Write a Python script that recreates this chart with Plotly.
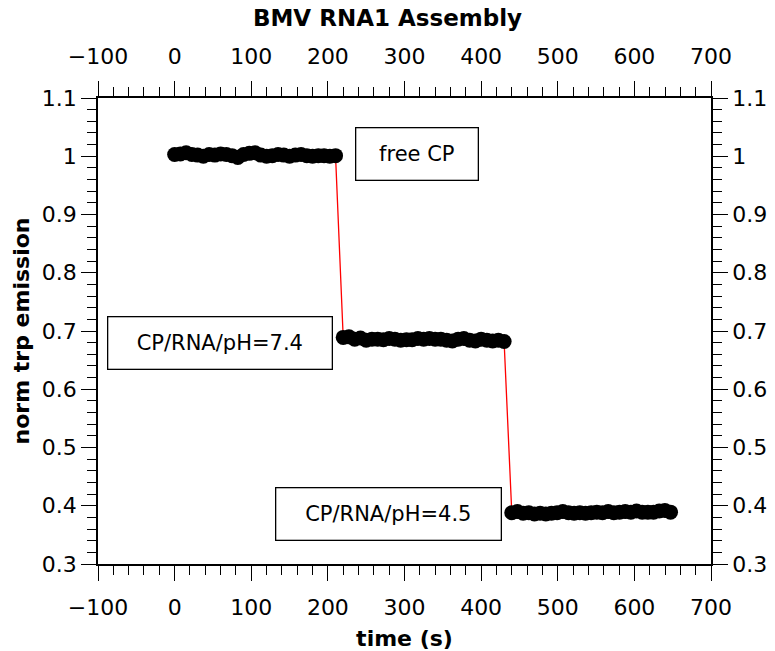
import plotly.graph_objects as go

time_s = [round(i * 7.5, 1) for i in range(29)] + \
         [round(220 + i * 7.5, 1) for i in range(29)] + \
         [round(440 + i * 7.4, 1) for i in range(29)]

seg1 = [1.003, 1.004, 1.006, 1.003, 1.002, 1.000, 1.003, 1.002, 1.004, 1.003,
        1.001, 0.998, 1.003, 1.005, 1.006, 1.002, 1.000, 1.001, 1.003, 1.002,
        1.000, 1.002, 1.003, 1.001, 1.000, 1.001, 1.001, 1.000, 1.001]
seg2 = [0.689, 0.690, 0.686, 0.688, 0.684, 0.686, 0.686, 0.685, 0.687, 0.686,
        0.684, 0.685, 0.685, 0.687, 0.686, 0.687, 0.686, 0.686, 0.684, 0.683,
        0.686, 0.687, 0.684, 0.683, 0.686, 0.684, 0.683, 0.684, 0.682]
seg3 = [0.388, 0.390, 0.387, 0.388, 0.386, 0.387, 0.386, 0.387, 0.388, 0.390,
        0.388, 0.387, 0.388, 0.387, 0.388, 0.389, 0.388, 0.390, 0.388, 0.389,
        0.390, 0.389, 0.391, 0.389, 0.389, 0.389, 0.391, 0.392, 0.389]
emission = seg1 + seg2 + seg3

labels = ["free CP", "CP/RNA/pH=7.4", "CP/RNA/pH=4.5"]
label_x = [316.5, 59.5, 278.5]
label_y = [1.004, 0.68, 0.385]
label_w = [121, 223, 224]

xrange_ = [-100, 700]
yrange_ = [0.3, 1.1]

font_main = "DejaVu Sans"

fig = go.Figure()
fig.add_trace(go.Scatter(
    x=time_s, y=emission, mode="lines+markers",
    line=dict(color="red", width=1.3),
    marker=dict(color="black", size=15),
    showlegend=False,
))

common = dict(
    showline=True, linecolor="black", linewidth=1.5,
    ticks="outside", ticklen=15, tickwidth=1.2, tickcolor="black",
    showgrid=False, zeroline=False, automargin=False,
    tickfont=dict(family=font_main, size=22, color="black"),
)
minor_x = dict(dtick=20, ticklen=9, tickwidth=1.2, tickcolor="black", ticks="outside")
minor_y = dict(dtick=0.02, ticklen=9, tickwidth=1.2, tickcolor="black", ticks="outside")

fig.update_layout(
    width=775, height=651,
    margin=dict(l=98, r=64, t=98, b=87),
    plot_bgcolor="white", paper_bgcolor="white",
    title=dict(text="<b>BMV RNA1 Assembly</b>", x=0.5, xanchor="center",
               y=1 - 18 / 651, yanchor="middle",
               font=dict(family=font_main, size=23, color="black")),
    xaxis=dict(range=xrange_, dtick=100, tick0=0, minor=minor_x, ticklabelstandoff=8,
               title=dict(text="<b>time (s)</b>", font=dict(family=font_main, size=22, color="black"), standoff=11),
               **common),
    xaxis2=dict(range=xrange_, dtick=100, tick0=0, overlaying="x", side="top", anchor="y",
                minor=minor_x, ticklabelstandoff=8, **common),
    yaxis=dict(range=yrange_, dtick=0.1, tick0=0.3, minor=minor_y,
               title=dict(text="<b>norm trp emission</b>", font=dict(family=font_main, size=22, color="black"), standoff=6),
               **common),
    yaxis2=dict(range=yrange_, dtick=0.1, tick0=0.3, overlaying="y", side="right", anchor="x",
                minor=minor_y, **common),
)

# invisible trace to activate secondary axes
fig.add_trace(go.Scatter(x=[None], y=[None], xaxis="x2", yaxis="y2", showlegend=False, hoverinfo="skip"))

for t, xv, yv, w in zip(labels, label_x, label_y, label_w):
    fig.add_annotation(
        x=xv, y=yv, xref="x", yref="y", text=t, showarrow=False,
        font=dict(family=font_main, size=21, color="black"),
        bordercolor="black", borderwidth=1.3, borderpad=0,
        bgcolor="white", width=w, height=51,
        xanchor="center", yanchor="middle",
    )

fig.write_html("out.html")
